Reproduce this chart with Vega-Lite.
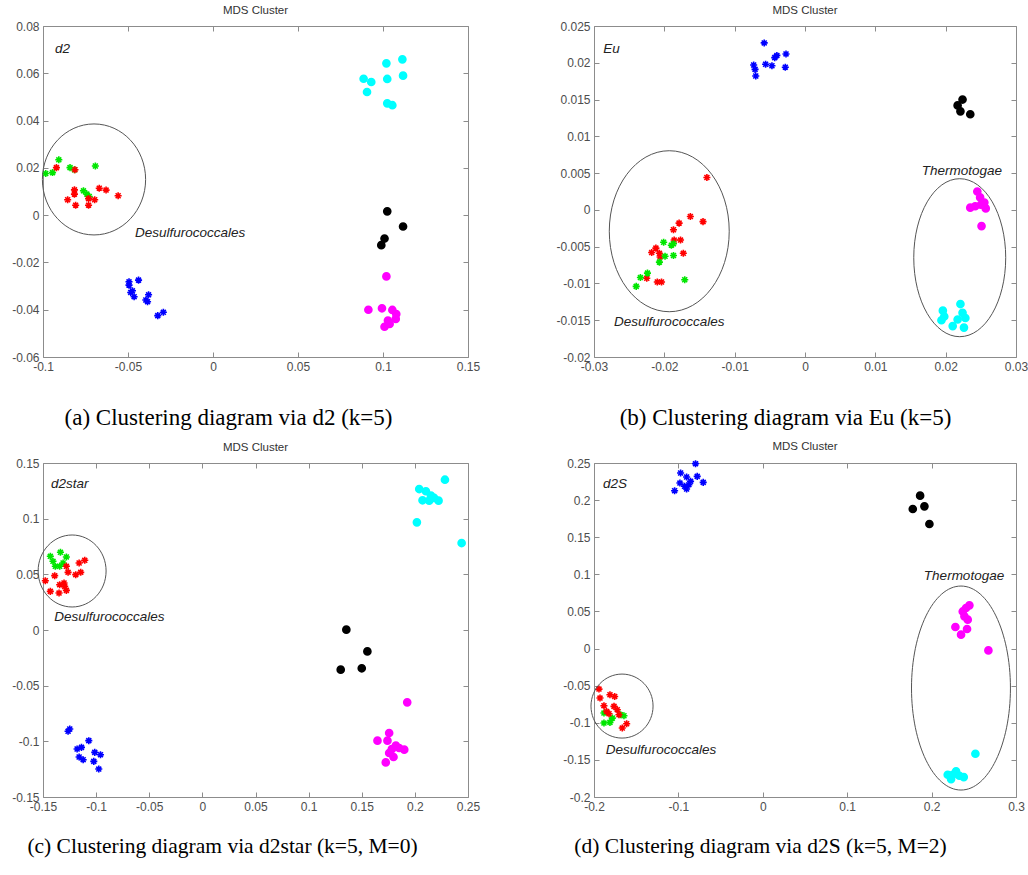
{
  "$schema": "https://vega.github.io/schema/vega-lite/v6.json",
  "padding": {"left": 11, "top": 4, "right": 3, "bottom": 5},
  "background": "white",
  "datasets": {
    "a": [
      {"cluster": "green", "x": -0.0984, "y": 0.0176}, {"cluster": "green", "x": -0.0944, "y": 0.018}, {"cluster": "green", "x": -0.0907, "y": 0.0234},
      {"cluster": "green", "x": -0.0841, "y": 0.0201}, {"cluster": "green", "x": -0.0815, "y": 0.0192}, {"cluster": "green", "x": -0.0692, "y": 0.0208},
      {"cluster": "green", "x": -0.0762, "y": 0.0103}, {"cluster": "green", "x": -0.0742, "y": 0.0089}, {"cluster": "green", "x": -0.0728, "y": 0.0079},
      {"cluster": "red", "x": -0.0921, "y": 0.0201}, {"cluster": "red", "x": -0.0812, "y": 0.0192}, {"cluster": "red", "x": -0.0815, "y": 0.0107},
      {"cluster": "red", "x": -0.0815, "y": 0.0089}, {"cluster": "red", "x": -0.0855, "y": 0.0065}, {"cluster": "red", "x": -0.0808, "y": 0.0042},
      {"cluster": "red", "x": -0.0732, "y": 0.0042}, {"cluster": "red", "x": -0.0732, "y": 0.007}, {"cluster": "red", "x": -0.0696, "y": 0.0065},
      {"cluster": "red", "x": -0.0669, "y": 0.0114}, {"cluster": "red", "x": -0.0629, "y": 0.0106}, {"cluster": "red", "x": -0.0558, "y": 0.0082},
      {"cluster": "blue", "x": -0.0494, "y": -0.0282}, {"cluster": "blue", "x": -0.0494, "y": -0.0296}, {"cluster": "blue", "x": -0.0438, "y": -0.0275},
      {"cluster": "blue", "x": -0.0474, "y": -0.032}, {"cluster": "blue", "x": -0.0464, "y": -0.0345}, {"cluster": "blue", "x": -0.0484, "y": -0.0327},
      {"cluster": "blue", "x": -0.0379, "y": -0.0337}, {"cluster": "blue", "x": -0.0385, "y": -0.0366}, {"cluster": "blue", "x": -0.0395, "y": -0.0359},
      {"cluster": "blue", "x": -0.0325, "y": -0.0425}, {"cluster": "blue", "x": -0.0292, "y": -0.0411},
      {"cluster": "cyan", "x": 0.102, "y": 0.0642}, {"cluster": "cyan", "x": 0.1114, "y": 0.0659}, {"cluster": "cyan", "x": 0.1118, "y": 0.059},
      {"cluster": "cyan", "x": 0.1025, "y": 0.0576}, {"cluster": "cyan", "x": 0.0886, "y": 0.0577}, {"cluster": "cyan", "x": 0.0931, "y": 0.0563},
      {"cluster": "cyan", "x": 0.0906, "y": 0.0521}, {"cluster": "cyan", "x": 0.1025, "y": 0.0473}, {"cluster": "cyan", "x": 0.1055, "y": 0.0465},
      {"cluster": "black", "x": 0.1025, "y": 0.0016}, {"cluster": "black", "x": 0.1118, "y": -0.0048}, {"cluster": "black", "x": 0.1009, "y": -0.0099},
      {"cluster": "black", "x": 0.099, "y": -0.0127},
      {"cluster": "magenta", "x": 0.102, "y": -0.0259}, {"cluster": "magenta", "x": 0.0914, "y": -0.04}, {"cluster": "magenta", "x": 0.0994, "y": -0.0394},
      {"cluster": "magenta", "x": 0.1055, "y": -0.0401}, {"cluster": "magenta", "x": 0.1078, "y": -0.0418}, {"cluster": "magenta", "x": 0.1075, "y": -0.0439},
      {"cluster": "magenta", "x": 0.1029, "y": -0.0446}, {"cluster": "magenta", "x": 0.1009, "y": -0.0472}, {"cluster": "magenta", "x": 0.1039, "y": -0.046}
    ],
    "b": [
      {"cluster": "blue", "x": -0.0058, "y": 0.0227}, {"cluster": "blue", "x": -0.0073, "y": 0.0197}, {"cluster": "blue", "x": -0.0071, "y": 0.0191},
      {"cluster": "blue", "x": -0.007, "y": 0.0182}, {"cluster": "blue", "x": -0.0056, "y": 0.0198}, {"cluster": "blue", "x": -0.0047, "y": 0.0196},
      {"cluster": "blue", "x": -0.0043, "y": 0.0207}, {"cluster": "blue", "x": -0.004, "y": 0.021}, {"cluster": "blue", "x": -0.0027, "y": 0.0212},
      {"cluster": "blue", "x": -0.0028, "y": 0.0194},
      {"cluster": "red", "x": -0.01395, "y": 0.0044}, {"cluster": "red", "x": -0.0163, "y": -0.0009}, {"cluster": "red", "x": -0.0145, "y": -0.0016},
      {"cluster": "red", "x": -0.0179, "y": -0.0018}, {"cluster": "red", "x": -0.0187, "y": -0.0027}, {"cluster": "red", "x": -0.0186, "y": -0.0041},
      {"cluster": "red", "x": -0.0177, "y": -0.0041}, {"cluster": "red", "x": -0.0173, "y": -0.0059}, {"cluster": "red", "x": -0.0212, "y": -0.0052},
      {"cluster": "red", "x": -0.0218, "y": -0.0058}, {"cluster": "red", "x": -0.0207, "y": -0.0059}, {"cluster": "red", "x": -0.0206, "y": -0.0064},
      {"cluster": "red", "x": -0.0225, "y": -0.0093}, {"cluster": "red", "x": -0.021, "y": -0.0098}, {"cluster": "red", "x": -0.0204, "y": -0.0098},
      {"cluster": "green", "x": -0.0201, "y": -0.0044}, {"cluster": "green", "x": -0.019, "y": -0.0048}, {"cluster": "green", "x": -0.0187, "y": -0.0046},
      {"cluster": "green", "x": -0.0199, "y": -0.0063}, {"cluster": "green", "x": -0.0187, "y": -0.0062}, {"cluster": "green", "x": -0.0207, "y": -0.0071},
      {"cluster": "green", "x": -0.0224, "y": -0.0086}, {"cluster": "green", "x": -0.0234, "y": -0.0092}, {"cluster": "green", "x": -0.024, "y": -0.0104},
      {"cluster": "green", "x": -0.0171, "y": -0.0095},
      {"cluster": "black", "x": 0.0224, "y": 0.015}, {"cluster": "black", "x": 0.0217, "y": 0.0142}, {"cluster": "black", "x": 0.0221, "y": 0.0134},
      {"cluster": "black", "x": 0.0235, "y": 0.013},
      {"cluster": "magenta", "x": 0.0245, "y": 0.0025}, {"cluster": "magenta", "x": 0.0249, "y": 0.0017}, {"cluster": "magenta", "x": 0.0235, "y": 0.0003},
      {"cluster": "magenta", "x": 0.0242, "y": 0.0005}, {"cluster": "magenta", "x": 0.025, "y": 0.0007}, {"cluster": "magenta", "x": 0.0257, "y": 0.0002},
      {"cluster": "magenta", "x": 0.0255, "y": 0.001}, {"cluster": "magenta", "x": 0.0251, "y": -0.0022},
      {"cluster": "cyan", "x": 0.0221, "y": -0.0128}, {"cluster": "cyan", "x": 0.0196, "y": -0.0137}, {"cluster": "cyan", "x": 0.0198, "y": -0.0145},
      {"cluster": "cyan", "x": 0.0194, "y": -0.015}, {"cluster": "cyan", "x": 0.0224, "y": -0.014}, {"cluster": "cyan", "x": 0.0228, "y": -0.0147},
      {"cluster": "cyan", "x": 0.0217, "y": -0.0149}, {"cluster": "cyan", "x": 0.021, "y": -0.0158}, {"cluster": "cyan", "x": 0.0226, "y": -0.016}
    ],
    "c": [
      {"cluster": "green", "x": -0.1431, "y": 0.0662}, {"cluster": "green", "x": -0.1336, "y": 0.0698}, {"cluster": "green", "x": -0.128, "y": 0.0656},
      {"cluster": "green", "x": -0.1384, "y": 0.0572}, {"cluster": "green", "x": -0.1343, "y": 0.0572}, {"cluster": "green", "x": -0.1311, "y": 0.0602},
      {"cluster": "green", "x": -0.1406, "y": 0.0617},
      {"cluster": "red", "x": -0.1478, "y": 0.0443}, {"cluster": "red", "x": -0.139, "y": 0.0488}, {"cluster": "red", "x": -0.1264, "y": 0.0518},
      {"cluster": "red", "x": -0.128, "y": 0.0572}, {"cluster": "red", "x": -0.1343, "y": 0.0407}, {"cluster": "red", "x": -0.1302, "y": 0.0422},
      {"cluster": "red", "x": -0.1431, "y": 0.0347}, {"cluster": "red", "x": -0.1349, "y": 0.0332}, {"cluster": "red", "x": -0.128, "y": 0.0356},
      {"cluster": "red", "x": -0.1192, "y": 0.0497}, {"cluster": "red", "x": -0.1145, "y": 0.0518}, {"cluster": "red", "x": -0.116, "y": 0.0602},
      {"cluster": "red", "x": -0.1107, "y": 0.0626}, {"cluster": "red", "x": -0.1296, "y": 0.0392},
      {"cluster": "blue", "x": -0.1264, "y": -0.091}, {"cluster": "blue", "x": -0.1248, "y": -0.0889}, {"cluster": "blue", "x": -0.1179, "y": -0.1069},
      {"cluster": "blue", "x": -0.1138, "y": -0.1054}, {"cluster": "blue", "x": -0.116, "y": -0.1141}, {"cluster": "blue", "x": -0.1122, "y": -0.1165},
      {"cluster": "blue", "x": -0.1069, "y": -0.0994}, {"cluster": "blue", "x": -0.1013, "y": -0.1099}, {"cluster": "blue", "x": -0.1022, "y": -0.118},
      {"cluster": "blue", "x": -0.0959, "y": -0.112}, {"cluster": "blue", "x": -0.0975, "y": -0.1249},
      {"cluster": "cyan", "x": 0.2283, "y": 0.135}, {"cluster": "cyan", "x": 0.2041, "y": 0.1266}, {"cluster": "cyan", "x": 0.2104, "y": 0.1246},
      {"cluster": "cyan", "x": 0.2072, "y": 0.1165}, {"cluster": "cyan", "x": 0.2151, "y": 0.1207}, {"cluster": "cyan", "x": 0.2182, "y": 0.1186},
      {"cluster": "cyan", "x": 0.2223, "y": 0.1162}, {"cluster": "cyan", "x": 0.2135, "y": 0.1162}, {"cluster": "cyan", "x": 0.2019, "y": 0.0967},
      {"cluster": "cyan", "x": 0.244, "y": 0.0781},
      {"cluster": "black", "x": 0.1355, "y": 0.0003}, {"cluster": "black", "x": 0.1553, "y": -0.0192}, {"cluster": "black", "x": 0.1302, "y": -0.0356},
      {"cluster": "black", "x": 0.15, "y": -0.0344},
      {"cluster": "magenta", "x": 0.1928, "y": -0.065}, {"cluster": "magenta", "x": 0.1758, "y": -0.0925}, {"cluster": "magenta", "x": 0.1648, "y": -0.0994},
      {"cluster": "magenta", "x": 0.1742, "y": -0.0994}, {"cluster": "magenta", "x": 0.1821, "y": -0.1039}, {"cluster": "magenta", "x": 0.19, "y": -0.1075},
      {"cluster": "magenta", "x": 0.1758, "y": -0.1105}, {"cluster": "magenta", "x": 0.1799, "y": -0.1141}, {"cluster": "magenta", "x": 0.1726, "y": -0.1189},
      {"cluster": "magenta", "x": 0.1852, "y": -0.106}, {"cluster": "magenta", "x": 0.1783, "y": -0.107}
    ],
    "d": [
      {"cluster": "blue", "x": -0.0797, "y": 0.2491}, {"cluster": "blue", "x": -0.0974, "y": 0.2365}, {"cluster": "blue", "x": -0.0903, "y": 0.2311},
      {"cluster": "blue", "x": -0.0777, "y": 0.232}, {"cluster": "blue", "x": -0.0706, "y": 0.2239}, {"cluster": "blue", "x": -0.0982, "y": 0.223},
      {"cluster": "blue", "x": -0.1045, "y": 0.2127}, {"cluster": "blue", "x": -0.0927, "y": 0.2186}, {"cluster": "blue", "x": -0.0876, "y": 0.2208},
      {"cluster": "blue", "x": -0.0903, "y": 0.215}, {"cluster": "blue", "x": -0.0856, "y": 0.2253},
      {"cluster": "green", "x": -0.1882, "y": -0.0869}, {"cluster": "green", "x": -0.1684, "y": -0.0892}, {"cluster": "green", "x": -0.1645, "y": -0.0905},
      {"cluster": "green", "x": -0.1882, "y": -0.1004}, {"cluster": "green", "x": -0.1811, "y": -0.0995}, {"cluster": "green", "x": -0.1783, "y": -0.0937},
      {"cluster": "red", "x": -0.1941, "y": -0.0546}, {"cluster": "red", "x": -0.1929, "y": -0.0667}, {"cluster": "red", "x": -0.1811, "y": -0.0622},
      {"cluster": "red", "x": -0.1755, "y": -0.0645}, {"cluster": "red", "x": -0.1882, "y": -0.077}, {"cluster": "red", "x": -0.185, "y": -0.0847},
      {"cluster": "red", "x": -0.1763, "y": -0.0779}, {"cluster": "red", "x": -0.1724, "y": -0.0824}, {"cluster": "red", "x": -0.1822, "y": -0.0878},
      {"cluster": "red", "x": -0.1704, "y": -0.0892}, {"cluster": "red", "x": -0.1613, "y": -0.1013}, {"cluster": "red", "x": -0.1665, "y": -0.1071},
      {"cluster": "black", "x": 0.1864, "y": 0.206}, {"cluster": "black", "x": 0.1777, "y": 0.188}, {"cluster": "black", "x": 0.1915, "y": 0.1916},
      {"cluster": "black", "x": 0.1974, "y": 0.1678},
      {"cluster": "magenta", "x": 0.2448, "y": 0.0582}, {"cluster": "magenta", "x": 0.2408, "y": 0.0546}, {"cluster": "magenta", "x": 0.2369, "y": 0.05},
      {"cluster": "magenta", "x": 0.2428, "y": 0.0389}, {"cluster": "magenta", "x": 0.2282, "y": 0.029}, {"cluster": "magenta", "x": 0.242, "y": 0.0263},
      {"cluster": "magenta", "x": 0.2349, "y": 0.0187}, {"cluster": "magenta", "x": 0.2673, "y": -0.0025}, {"cluster": "magenta", "x": 0.2389, "y": 0.0434},
      {"cluster": "cyan", "x": 0.2519, "y": -0.1417}, {"cluster": "cyan", "x": 0.2191, "y": -0.17}, {"cluster": "cyan", "x": 0.2231, "y": -0.1759},
      {"cluster": "cyan", "x": 0.229, "y": -0.1655}, {"cluster": "cyan", "x": 0.2329, "y": -0.1714}, {"cluster": "cyan", "x": 0.2381, "y": -0.1732},
      {"cluster": "cyan", "x": 0.225, "y": -0.17}
    ]
  },
  "concat": [
    {
      "width": 425, "height": 331,
      "title": "MDS Cluster",
      "layer": [
        {
          "data": {"name": "a"},
          "mark": {"type": "point", "filled": true, "size": 50, "strokeWidth": 1.6, "opacity": 1},
          "encoding": {
            "x": {"field": "x", "type": "quantitative", "scale": {"domain": [-0.1, 0.15], "nice": false, "zero": false},
                  "axis": {"values": [-0.1, -0.05, 0, 0.05, 0.1, 0.15], "labelExpr": "'' + datum.value", "title": "(a) Clustering diagram via d2 (k=5)", "titleX": 185, "titleFontSize": 23, "titlePadding": 34}},
            "y": {"field": "y", "type": "quantitative", "scale": {"domain": [-0.06, 0.08], "nice": false, "zero": false},
                  "axis": {"values": [-0.06, -0.04, -0.02, 0, 0.02, 0.04, 0.06, 0.08], "labelExpr": "'' + datum.value", "title": null}},
            "color": {"field": "cluster", "type": "nominal", "legend": null, "scale": {"domain": ["red", "green", "blue", "cyan", "black", "magenta"], "range": ["#ff0000", "#00e600", "#0000ff", "#00ffff", "#000000", "#ff00ff"]}},
            "stroke": {"field": "cluster", "type": "nominal", "legend": null, "scale": {"domain": ["red", "green", "blue", "cyan", "black", "magenta"], "range": ["#ff0000", "#00e600", "#0000ff", "#00ffff", "#000000", "#ff00ff"]}},
            "shape": {"field": "cluster", "type": "nominal", "legend": null, "scale": {"domain": ["red", "green", "blue", "cyan", "black", "magenta"], "range": ["M-1,0L1,0M0,-1L0,1M-0.7,-0.7L0.7,0.7M-0.7,0.7L0.7,-0.7", "M-1,0L1,0M0,-1L0,1M-0.7,-0.7L0.7,0.7M-0.7,0.7L0.7,-0.7", "M-1,0L1,0M0,-1L0,1M-0.7,-0.7L0.7,0.7M-0.7,0.7L0.7,-0.7", "circle", "circle", "circle"]}}
          }
        },
        {
          "data": {"name": "a"},
          "mark": {"type": "point", "opacity": 0},
          "encoding": {
            "x": {"field": "x", "type": "quantitative", "axis": {"orient": "top", "values": [-0.1, -0.05, 0, 0.05, 0.1, 0.15], "labels": false, "title": null}},
            "y": {"field": "y", "type": "quantitative", "axis": {"orient": "right", "values": [-0.06, -0.04, -0.02, 0, 0.02, 0.04, 0.06, 0.08], "labels": false, "title": null}}
          }
        },
        {
          "data": {"values": [{}]},
          "mark": {"type": "point", "shape": "M-0.93,0A0.93,1 0 1,0 0.93,0A0.93,1 0 1,0 -0.93,0Z", "size": 12321, "filled": false, "stroke": "#555555", "strokeWidth": 1, "opacity": 1},
          "encoding": {"x": {"datum": -0.07, "type": "quantitative", "axis": null}, "y": {"datum": 0.0151, "type": "quantitative", "axis": null}}
        },
        {
          "data": {"values": [{}]},
          "mark": {"type": "text", "font": "Liberation Sans", "fontStyle": "italic", "fontSize": 13.5, "align": "left", "baseline": "middle", "color": "#222222"},
          "encoding": {"x": {"datum": -0.093, "type": "quantitative", "axis": null}, "y": {"datum": 0.0702, "type": "quantitative", "axis": null}, "text": {"value": "d2"}}
        },
        {
          "data": {"values": [{}]},
          "mark": {"type": "text", "font": "Liberation Sans", "fontStyle": "italic", "fontSize": 13.5, "align": "center", "baseline": "middle", "color": "#222222"},
          "encoding": {"x": {"datum": -0.0135, "type": "quantitative", "axis": null}, "y": {"datum": -0.0074, "type": "quantitative", "axis": null}, "text": {"value": "Desulfurococcales"}}
        }
      ],
      "resolve": {"axis": {"x": "independent", "y": "independent"}}
    },
    {
      "width": 422, "height": 331,
      "title": "MDS Cluster",
      "layer": [
        {
          "data": {"name": "b"},
          "mark": {"type": "point", "filled": true, "size": 50, "strokeWidth": 1.6, "opacity": 1},
          "encoding": {
            "x": {"field": "x", "type": "quantitative", "scale": {"domain": [-0.03, 0.03], "nice": false, "zero": false},
                  "axis": {"values": [-0.03, -0.02, -0.01, 0, 0.01, 0.02, 0.03], "labelExpr": "'' + datum.value", "title": "(b) Clustering diagram via Eu (k=5)", "titleX": 191, "titleFontSize": 23, "titlePadding": 34}},
            "y": {"field": "y", "type": "quantitative", "scale": {"domain": [-0.02, 0.025], "nice": false, "zero": false},
                  "axis": {"values": [-0.02, -0.015, -0.01, -0.005, 0, 0.005, 0.01, 0.015, 0.02, 0.025], "labelExpr": "'' + datum.value", "title": null}},
            "color": {"field": "cluster", "type": "nominal", "legend": null, "scale": {"domain": ["red", "green", "blue", "cyan", "black", "magenta"], "range": ["#ff0000", "#00e600", "#0000ff", "#00ffff", "#000000", "#ff00ff"]}},
            "stroke": {"field": "cluster", "type": "nominal", "legend": null, "scale": {"domain": ["red", "green", "blue", "cyan", "black", "magenta"], "range": ["#ff0000", "#00e600", "#0000ff", "#00ffff", "#000000", "#ff00ff"]}},
            "shape": {"field": "cluster", "type": "nominal", "legend": null, "scale": {"domain": ["red", "green", "blue", "cyan", "black", "magenta"], "range": ["M-1,0L1,0M0,-1L0,1M-0.7,-0.7L0.7,0.7M-0.7,0.7L0.7,-0.7", "M-1,0L1,0M0,-1L0,1M-0.7,-0.7L0.7,0.7M-0.7,0.7L0.7,-0.7", "M-1,0L1,0M0,-1L0,1M-0.7,-0.7L0.7,0.7M-0.7,0.7L0.7,-0.7", "circle", "circle", "circle"]}}
          }
        },
        {
          "data": {"name": "b"},
          "mark": {"type": "point", "opacity": 0},
          "encoding": {
            "x": {"field": "x", "type": "quantitative", "axis": {"orient": "top", "values": [-0.03, -0.02, -0.01, 0, 0.01, 0.02, 0.03], "labels": false, "title": null}},
            "y": {"field": "y", "type": "quantitative", "axis": {"orient": "right", "values": [-0.02, -0.015, -0.01, -0.005, 0, 0.005, 0.01, 0.015, 0.02, 0.025], "labels": false, "title": null}}
          }
        },
        {
          "data": {"values": [{}]},
          "mark": {"type": "point", "shape": "M-0.745,0A0.745,1 0 1,0 0.745,0A0.745,1 0 1,0 -0.745,0Z", "size": 25921, "filled": false, "stroke": "#555555", "strokeWidth": 1, "opacity": 1},
          "encoding": {"x": {"datum": -0.0193, "type": "quantitative", "axis": null}, "y": {"datum": -0.0029, "type": "quantitative", "axis": null}}
        },
        {
          "data": {"values": [{}]},
          "mark": {"type": "point", "shape": "M-0.582,0A0.582,1 0 1,0 0.582,0A0.582,1 0 1,0 -0.582,0Z", "size": 24964, "filled": false, "stroke": "#555555", "strokeWidth": 1, "opacity": 1},
          "encoding": {"x": {"datum": 0.022, "type": "quantitative", "axis": null}, "y": {"datum": -0.0065, "type": "quantitative", "axis": null}}
        },
        {
          "data": {"values": [{}]},
          "mark": {"type": "text", "font": "Liberation Sans", "fontStyle": "italic", "fontSize": 13.5, "align": "left", "baseline": "middle", "color": "#222222"},
          "encoding": {"x": {"datum": -0.0287, "type": "quantitative", "axis": null}, "y": {"datum": 0.0219, "type": "quantitative", "axis": null}, "text": {"value": "Eu"}}
        },
        {
          "data": {"values": [{}]},
          "mark": {"type": "text", "font": "Liberation Sans", "fontStyle": "italic", "fontSize": 13.5, "align": "center", "baseline": "middle", "color": "#222222"},
          "encoding": {"x": {"datum": -0.0193, "type": "quantitative", "axis": null}, "y": {"datum": -0.0152, "type": "quantitative", "axis": null}, "text": {"value": "Desulfurococcales"}}
        },
        {
          "data": {"values": [{}]},
          "mark": {"type": "text", "font": "Liberation Sans", "fontStyle": "italic", "fontSize": 13.5, "align": "center", "baseline": "middle", "color": "#222222"},
          "encoding": {"x": {"datum": 0.0223, "type": "quantitative", "axis": null}, "y": {"datum": 0.0053, "type": "quantitative", "axis": null}, "text": {"value": "Thermotogae"}}
        }
      ],
      "resolve": {"axis": {"x": "independent", "y": "independent"}}
    },
    {
      "width": 425, "height": 334,
      "title": "MDS Cluster",
      "layer": [
        {
          "data": {"name": "c"},
          "mark": {"type": "point", "filled": true, "size": 50, "strokeWidth": 1.6, "opacity": 1},
          "encoding": {
            "x": {"field": "x", "type": "quantitative", "scale": {"domain": [-0.15, 0.25], "nice": false, "zero": false},
                  "axis": {"values": [-0.15, -0.1, -0.05, 0, 0.05, 0.1, 0.15, 0.2, 0.25], "labelExpr": "'' + datum.value", "title": "(c) Clustering diagram via d2star (k=5, M=0)", "titleX": 179, "titleFontSize": 21.5, "titlePadding": 23}},
            "y": {"field": "y", "type": "quantitative", "scale": {"domain": [-0.15, 0.15], "nice": false, "zero": false},
                  "axis": {"values": [-0.15, -0.1, -0.05, 0, 0.05, 0.1, 0.15], "labelExpr": "'' + datum.value", "title": null}},
            "color": {"field": "cluster", "type": "nominal", "legend": null, "scale": {"domain": ["red", "green", "blue", "cyan", "black", "magenta"], "range": ["#ff0000", "#00e600", "#0000ff", "#00ffff", "#000000", "#ff00ff"]}},
            "stroke": {"field": "cluster", "type": "nominal", "legend": null, "scale": {"domain": ["red", "green", "blue", "cyan", "black", "magenta"], "range": ["#ff0000", "#00e600", "#0000ff", "#00ffff", "#000000", "#ff00ff"]}},
            "shape": {"field": "cluster", "type": "nominal", "legend": null, "scale": {"domain": ["red", "green", "blue", "cyan", "black", "magenta"], "range": ["M-1,0L1,0M0,-1L0,1M-0.7,-0.7L0.7,0.7M-0.7,0.7L0.7,-0.7", "M-1,0L1,0M0,-1L0,1M-0.7,-0.7L0.7,0.7M-0.7,0.7L0.7,-0.7", "M-1,0L1,0M0,-1L0,1M-0.7,-0.7L0.7,0.7M-0.7,0.7L0.7,-0.7", "circle", "circle", "circle"]}}
          }
        },
        {
          "data": {"name": "c"},
          "mark": {"type": "point", "opacity": 0},
          "encoding": {
            "x": {"field": "x", "type": "quantitative", "axis": {"orient": "top", "values": [-0.15, -0.1, -0.05, 0, 0.05, 0.1, 0.15, 0.2, 0.25], "labels": false, "title": null}},
            "y": {"field": "y", "type": "quantitative", "axis": {"orient": "right", "values": [-0.15, -0.1, -0.05, 0, 0.05, 0.1, 0.15], "labels": false, "title": null}}
          }
        },
        {
          "data": {"values": [{}]},
          "mark": {"type": "point", "shape": "M-0.944,0A0.944,1 0 1,0 0.944,0A0.944,1 0 1,0 -0.944,0Z", "size": 5184, "filled": false, "stroke": "#555555", "strokeWidth": 1, "opacity": 1},
          "encoding": {"x": {"datum": -0.1226, "type": "quantitative", "axis": null}, "y": {"datum": 0.053, "type": "quantitative", "axis": null}}
        },
        {
          "data": {"values": [{}]},
          "mark": {"type": "text", "font": "Liberation Sans", "fontStyle": "italic", "fontSize": 13.5, "align": "left", "baseline": "middle", "color": "#222222"},
          "encoding": {"x": {"datum": -0.1424, "type": "quantitative", "axis": null}, "y": {"datum": 0.1311, "type": "quantitative", "axis": null}, "text": {"value": "d2star"}}
        },
        {
          "data": {"values": [{}]},
          "mark": {"type": "text", "font": "Liberation Sans", "fontStyle": "italic", "fontSize": 13.5, "align": "center", "baseline": "middle", "color": "#222222"},
          "encoding": {"x": {"datum": -0.0876, "type": "quantitative", "axis": null}, "y": {"datum": 0.0116, "type": "quantitative", "axis": null}, "text": {"value": "Desulfurococcales"}}
        }
      ],
      "resolve": {"axis": {"x": "independent", "y": "independent"}}
    },
    {
      "width": 422, "height": 334,
      "title": "MDS Cluster",
      "layer": [
        {
          "data": {"name": "d"},
          "mark": {"type": "point", "filled": true, "size": 50, "strokeWidth": 1.6, "opacity": 1},
          "encoding": {
            "x": {"field": "x", "type": "quantitative", "scale": {"domain": [-0.2, 0.3], "nice": false, "zero": false},
                  "axis": {"values": [-0.2, -0.1, 0, 0.1, 0.2, 0.3], "labelExpr": "'' + datum.value", "title": "(d) Clustering diagram via d2S (k=5, M=2)", "titleX": 166, "titleFontSize": 21.5, "titlePadding": 23}},
            "y": {"field": "y", "type": "quantitative", "scale": {"domain": [-0.2, 0.25], "nice": false, "zero": false},
                  "axis": {"values": [-0.2, -0.15, -0.1, -0.05, 0, 0.05, 0.1, 0.15, 0.2, 0.25], "labelExpr": "'' + datum.value", "title": null}},
            "color": {"field": "cluster", "type": "nominal", "legend": null, "scale": {"domain": ["red", "green", "blue", "cyan", "black", "magenta"], "range": ["#ff0000", "#00e600", "#0000ff", "#00ffff", "#000000", "#ff00ff"]}},
            "stroke": {"field": "cluster", "type": "nominal", "legend": null, "scale": {"domain": ["red", "green", "blue", "cyan", "black", "magenta"], "range": ["#ff0000", "#00e600", "#0000ff", "#00ffff", "#000000", "#ff00ff"]}},
            "shape": {"field": "cluster", "type": "nominal", "legend": null, "scale": {"domain": ["red", "green", "blue", "cyan", "black", "magenta"], "range": ["M-1,0L1,0M0,-1L0,1M-0.7,-0.7L0.7,0.7M-0.7,0.7L0.7,-0.7", "M-1,0L1,0M0,-1L0,1M-0.7,-0.7L0.7,0.7M-0.7,0.7L0.7,-0.7", "M-1,0L1,0M0,-1L0,1M-0.7,-0.7L0.7,0.7M-0.7,0.7L0.7,-0.7", "circle", "circle", "circle"]}}
          }
        },
        {
          "data": {"name": "d"},
          "mark": {"type": "point", "opacity": 0},
          "encoding": {
            "x": {"field": "x", "type": "quantitative", "axis": {"orient": "top", "values": [-0.2, -0.1, 0, 0.1, 0.2, 0.3], "labels": false, "title": null}},
            "y": {"field": "y", "type": "quantitative", "axis": {"orient": "right", "values": [-0.2, -0.15, -0.1, -0.05, 0, 0.05, 0.1, 0.15, 0.2, 0.25], "labels": false, "title": null}}
          }
        },
        {
          "data": {"values": [{}]},
          "mark": {"type": "point", "shape": "M-0.97,0A0.97,1 0 1,0 0.97,0A0.97,1 0 1,0 -0.97,0Z", "size": 4096, "filled": false, "stroke": "#555555", "strokeWidth": 1, "opacity": 1},
          "encoding": {"x": {"datum": -0.1668, "type": "quantitative", "axis": null}, "y": {"datum": -0.0775, "type": "quantitative", "axis": null}}
        },
        {
          "data": {"values": [{}]},
          "mark": {"type": "point", "shape": "M-0.485,0A0.485,1 0 1,0 0.485,0A0.485,1 0 1,0 -0.485,0Z", "size": 41616, "filled": false, "stroke": "#555555", "strokeWidth": 1, "opacity": 1},
          "encoding": {"x": {"datum": 0.2348, "type": "quantitative", "axis": null}, "y": {"datum": -0.0532, "type": "quantitative", "axis": null}}
        },
        {
          "data": {"values": [{}]},
          "mark": {"type": "text", "font": "Liberation Sans", "fontStyle": "italic", "fontSize": 13.5, "align": "left", "baseline": "middle", "color": "#222222"},
          "encoding": {"x": {"datum": -0.1893, "type": "quantitative", "axis": null}, "y": {"datum": 0.2217, "type": "quantitative", "axis": null}, "text": {"value": "d2S"}}
        },
        {
          "data": {"values": [{}]},
          "mark": {"type": "text", "font": "Liberation Sans", "fontStyle": "italic", "fontSize": 13.5, "align": "center", "baseline": "middle", "color": "#222222"},
          "encoding": {"x": {"datum": -0.1206, "type": "quantitative", "axis": null}, "y": {"datum": -0.1368, "type": "quantitative", "axis": null}, "text": {"value": "Desulfurococcales"}}
        },
        {
          "data": {"values": [{}]},
          "mark": {"type": "text", "font": "Liberation Sans", "fontStyle": "italic", "fontSize": 13.5, "align": "center", "baseline": "middle", "color": "#222222"},
          "encoding": {"x": {"datum": 0.2384, "type": "quantitative", "axis": null}, "y": {"datum": 0.0977, "type": "quantitative", "axis": null}, "text": {"value": "Thermotogae"}}
        }
      ],
      "resolve": {"axis": {"x": "independent", "y": "independent"}}
    }
  ],
  "columns": 2,
  "spacing": {"row": 10, "column": 74},
  "config": {
    "view": {"stroke": "#8c8c8c", "strokeWidth": 1},
    "axis": {
      "grid": false, "domain": false,
      "labelFont": "Liberation Sans", "labelFontSize": 12, "labelColor": "#4d4d4d", "labelFlush": false,
      "ticks": true, "tickColor": "#8c8c8c", "tickSize": -5, "labelPadding": 9,
      "titleFont": "Liberation Serif", "titleFontSize": 19, "titleFontWeight": "normal", "titleColor": "#000000", "titlePadding": 36
    },
    "title": {"font": "Liberation Sans", "fontSize": 11.5, "fontWeight": "normal", "color": "#333333", "offset": 4, "anchor": "middle"}
  }
}
